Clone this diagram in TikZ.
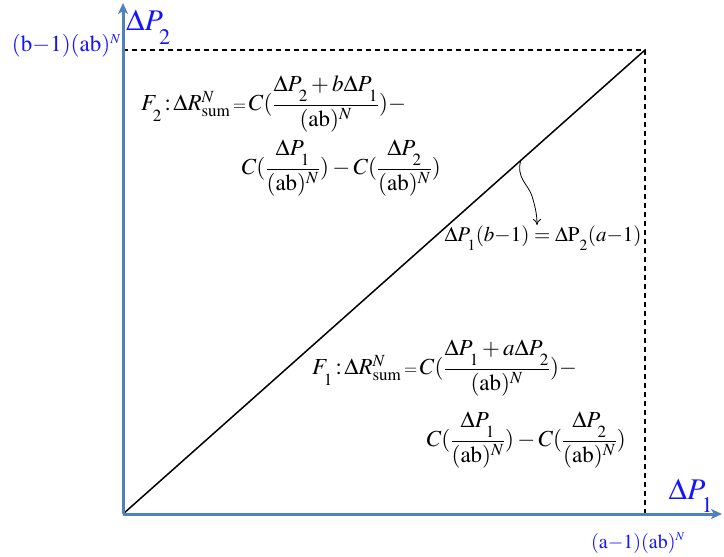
\documentclass[tikz,border=0pt]{standalone}
\usepackage{amsmath}
\usepackage{mathptmx}
\usepackage{fontspec}
\setmainfont{Liberation Serif}
\usetikzlibrary{arrows.meta}
\definecolor{axisblue}{RGB}{79,129,189}
\definecolor{lblblue}{RGB}{20,20,255}
\newcommand{\lsb}[1]{_{\raisebox{-0.3em}{$\scriptstyle #1$}}}
\newcommand{\abN}{(\mathrm{ab})^{N}}
\tikzset{
  axisline/.style={draw=axisblue,line width=3pt,-{Stealth[length=11pt,width=10pt,inset=3pt]}},
  dashline/.style={draw=black,line width=1.5pt,dash pattern=on 5pt off 4pt},
  diagline/.style={draw=black,line width=1.5pt},
  eqtext/.style={inner sep=0pt,font=\fontsize{23}{27}\selectfont},
  midtext/.style={inner sep=0pt,font=\fontsize{21}{25}\selectfont},
  axlbl/.style={inner sep=0pt,text=lblblue,font=\fontsize{20}{24}\selectfont},
  biglbl/.style={inner sep=0pt,text=lblblue,font=\fontsize{30}{34}\selectfont},
  pointer/.style={draw=black,line width=0.8pt,-{To[length=6pt,width=8pt]}}
}
\begin{document}
\begin{tikzpicture}[x=1pt,y=-1pt]
\useasboundingbox (0,0) rectangle (724,557);
\coordinate (O) at (123,514);
\coordinate (Ytip) at (123,3);
\coordinate (Xtip) at (722,514);
\coordinate (C) at (645,50);
\coordinate (Ct) at (123,50);
\coordinate (Cb) at (645,514);
\draw[dashline] (Ct) -- (C) -- (Cb);
\draw[diagline] (O) -- (C);
\draw[axisline] (O) -- (Ytip);
\draw[axisline] (O) -- (Xtip);
\path (O) -- (C) coordinate[pos=0.762] (dp);
\node[axlbl,anchor=east,font=\fontsize{23}{27}\selectfont] (ylab) at (121,46) {$(\mathrm{b}{-}1)(\mathrm{ab})^{\scriptscriptstyle N}$};
\node[biglbl,anchor=north west] (yax) at (126,10) {$\Delta P\lsb{2}$};
\node[biglbl] (xax) at (691,496) {$\Delta P\lsb{1}$};
\node[axlbl] (xlab) at (638,543) {$(\mathrm{a}{-}1)(\mathrm{ab})^{\scriptscriptstyle N}$};
\node[eqtext,anchor=west] (f2a) at (141,104) {$F\lsb{2}\!:\!\Delta R^N_{\mathrm{sum}}\,{\scriptstyle=}\,C(\dfrac{\Delta P\lsb{2}+b\Delta P\lsb{1}}{\abN})-$};
\node[eqtext,anchor=east] (f2b) at (441,168) {$C(\dfrac{\Delta P\lsb{1}}{\abN})-C(\dfrac{\Delta P\lsb{2}}{\abN})$};
\node[midtext] (eq) at (543,238) {$\Delta P\lsb{1}(b{-}1)=\Delta \mathrm{P}\lsb{2}(a{-}1)$};
\node[eqtext,anchor=west] (f1a) at (312,368) {$F\lsb{1}\!:\!\Delta R^N_{\mathrm{sum}}\,{\scriptstyle=}\,C(\dfrac{\Delta P\lsb{1}+a\Delta P\lsb{2}}{\abN})-$};
\node[eqtext,anchor=east] (f1b) at (626,440) {$C(\dfrac{\Delta P\lsb{1}}{\abN})-C(\dfrac{\Delta P\lsb{2}}{\abN})$};
\coordinate (tip) at (537,225);
\draw[pointer] (dp) .. controls (516,178) and (528,184) .. (532,196) .. controls (535,206) and (537,214) .. (tip);
\end{tikzpicture}
\end{document}
